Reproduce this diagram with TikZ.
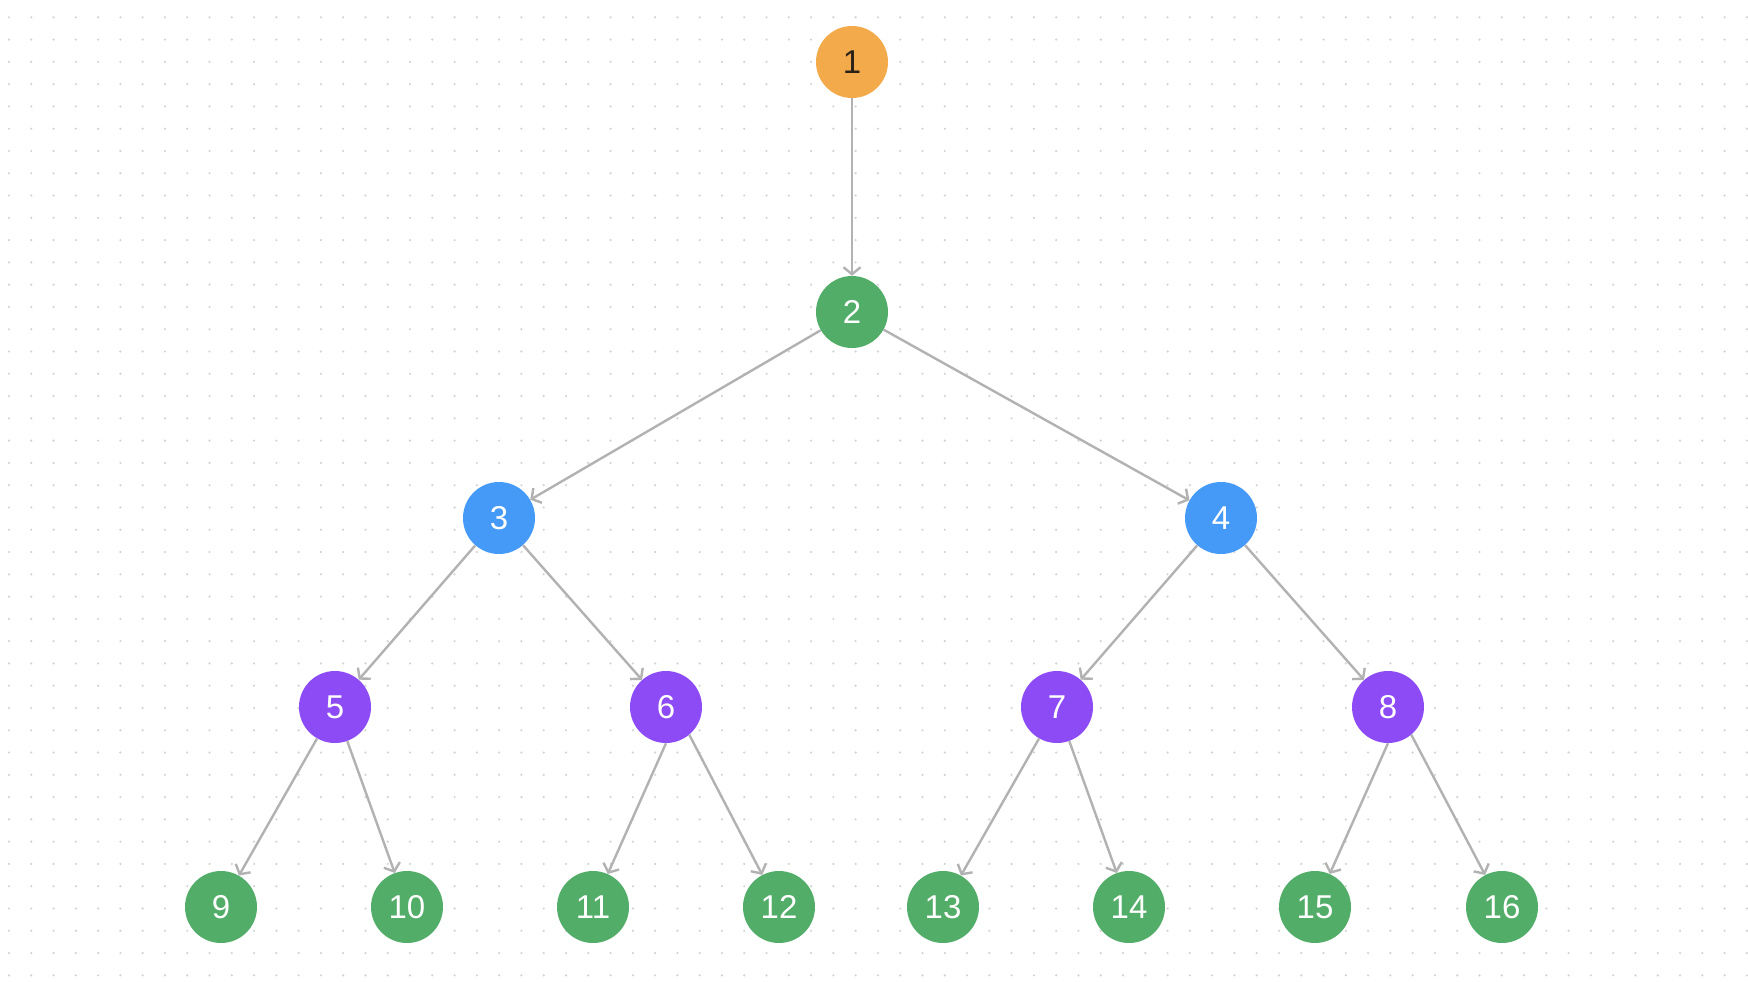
\documentclass[tikz,border=0pt]{standalone}
\usepackage{fontspec}
\setmainfont{Liberation Sans}
\usetikzlibrary{arrows.meta}
\definecolor{nodeorange}{HTML}{F2AA4A}
\definecolor{nodegreen}{HTML}{52AD68}
\definecolor{nodeblue}{HTML}{4599F7}
\definecolor{nodepurple}{HTML}{8D4BF6}
\definecolor{edgegray}{HTML}{B2B2B2}
\definecolor{dotgray}{HTML}{D2D2D2}
\definecolor{darktext}{HTML}{2A2118}
\tikzset{
  treenode/.style={circle, minimum size=72pt, inner sep=0pt, text=white, font=\fontsize{33}{33}\selectfont},
  orangenode/.style={treenode, fill=nodeorange, text=darktext},
  greennode/.style={treenode, fill=nodegreen},
  bluenode/.style={treenode, fill=nodeblue},
  purplenode/.style={treenode, fill=nodepurple},
  edge/.style={draw=edgegray, line width=2.4pt, -{Straight Barb[length=7pt,width=17pt,line width=2.4pt]}},
}
\begin{document}
\begin{tikzpicture}[x=1pt,y=-1pt]
\useasboundingbox[fill=white] (0,0) rectangle (1748,982);
\foreach \i in {0,...,78} {
  \foreach \j in {0,...,43} {
    \fill[dotgray] ({9+22.28*\i},{17.3+22.28*\j}) circle (1.2);
  }
}
\node[orangenode] (n1) at (852,62) {1};
\node[greennode] (n2) at (852,312) {2};
\node[bluenode] (n3) at (499,518) {3};
\node[bluenode] (n4) at (1221,518) {4};
\node[purplenode] (n5) at (335,707) {5};
\node[purplenode] (n6) at (666,707) {6};
\node[purplenode] (n7) at (1057,707) {7};
\node[purplenode] (n8) at (1388,707) {8};
\node[greennode] (n9) at (221,907) {9};
\node[greennode] (n10) at (407,907) {10};
\node[greennode] (n11) at (593,907) {11};
\node[greennode] (n12) at (779,907) {12};
\node[greennode] (n13) at (943,907) {13};
\node[greennode] (n14) at (1129,907) {14};
\node[greennode] (n15) at (1315,907) {15};
\node[greennode] (n16) at (1502,907) {16};
\draw[edge] (n1) -- (n2);
\draw[edge] (n2) -- (n3);
\draw[edge] (n2) -- (n4);
\draw[edge] (n3) -- (n5);
\draw[edge] (n3) -- (n6);
\draw[edge] (n4) -- (n7);
\draw[edge] (n4) -- (n8);
\draw[edge] (n5) -- (n9);
\draw[edge] (n5) -- (n10);
\draw[edge] (n6.south) -- (n11);
\draw[edge] (n6.-50) -- (n12);
\draw[edge] (n7) -- (n13);
\draw[edge] (n7) -- (n14);
\draw[edge] (n8.south) -- (n15);
\draw[edge] (n8.-50) -- (n16);
\end{tikzpicture}
\end{document}
